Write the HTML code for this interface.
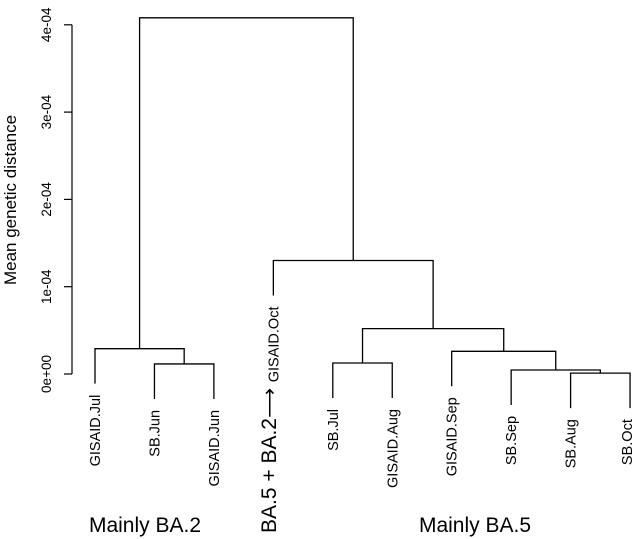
<!DOCTYPE html>
<html><head><meta charset="utf-8"><style>
html,body{margin:0;padding:0;background:#fff;}
svg{display:block;font-family:"Liberation Sans",Arial,sans-serif;}
</style></head><body>
<svg id="chart" width="634" height="539" viewBox="0 0 634 539"></svg>
<script>
const leaves = ["GISAID.Jul","SB.Jun","GISAID.Jun","GISAID.Oct","SB.Jul","GISAID.Aug","GISAID.Sep","SB.Sep","SB.Aug","SB.Oct"];
// merges: negative = leaf index -(i+1), positive = merge index (1-based)
const mergeLeft = [-2, -1, -9, -8, -5, -7, 5, -4, 2];
const mergeRight = [-3, 1, -10, 3, -6, 4, 6, 7, 8];
const heights = [0.115e-4, 0.29e-4, 0.01e-4, 0.046e-4, 0.126e-4, 0.26e-4, 0.52e-4, 1.30e-4, 4.08e-4];
const tickValues = [0, 1e-4, 2e-4, 3e-4, 4e-4];
const tickLabels = ["0e+00","1e-04","2e-04","3e-04","4e-04"];

const svg = document.getElementById('chart');
const NS = "http://www.w3.org/2000/svg";
const y = v => 374 - v/1e-4*87.3;
const x = i => 95 + i*59.45;
const hang = 35;
function el(tag, attrs, parent){const e=document.createElementNS(NS,tag);for(const k in attrs)e.setAttribute(k,attrs[k]);(parent||svg).appendChild(e);return e;}

const ax = el('line',{x1:72,x2:72,y1:y(4e-4),y2:y(0),stroke:'#000','stroke-width':1.2});


tickValues.forEach((v,i)=>{
  const t=el('line',{x1:64,x2:72,y1:y(v),y2:y(v),stroke:'#000','stroke-width':1.2});
  
  
  const tx=el('text',{transform:`translate(51,${y(v)}) rotate(-90)`,'text-anchor':'middle','font-size':13.5});
  tx.textContent=tickLabels[i];
  
  
});
const yt=el('text',{transform:'translate(16,200) rotate(-90)','text-anchor':'middle','font-size':17});
yt.textContent='Mean genetic distance';



const pos = {};
function nodePos(id){
  if(id<0){return {x:x(-id-1), h:null, leaf:-id-1};}
  return pos[id];
}
heights.forEach((h,i)=>{
  const a=nodePos(mergeLeft[i]), b=nodePos(mergeRight[i]);
  pos[i+1]={x:(a.x+b.x)/2,h:h};
  const yy=y(h);
  const ya = a.h===null ? yy+hang : y(a.h);
  const yb = b.h===null ? yy+hang : y(b.h);
  const p=el('path',{d:`M${a.x},${ya}V${yy}H${b.x}V${yb}`,fill:'none',stroke:'#000','stroke-width':1.3});
  
  
  [a,b].forEach((n,k)=>{
    if(n.h===null){
      const yl=(k===0?ya:yb)+11;
      const t=el('text',{transform:`translate(${Math.min(n.x+5,632)},${yl}) rotate(-90)`,'text-anchor':'end','font-size':14.5});
      t.textContent=leaves[n.leaf];
      
      
    }
  });
});

const g1=el('text',{x:145,y:532,'text-anchor':'middle','font-size':21});
g1.textContent='Mainly BA.2';


const g2=el('text',{x:475,y:532,'text-anchor':'middle','font-size':21});
g2.textContent='Mainly BA.5';


const g3=el('text',{transform:'translate(276,533) rotate(-90)','text-anchor':'start','font-size':21});
g3.textContent='BA.5 + BA.2\u27F6';


</script>
</body></html>
